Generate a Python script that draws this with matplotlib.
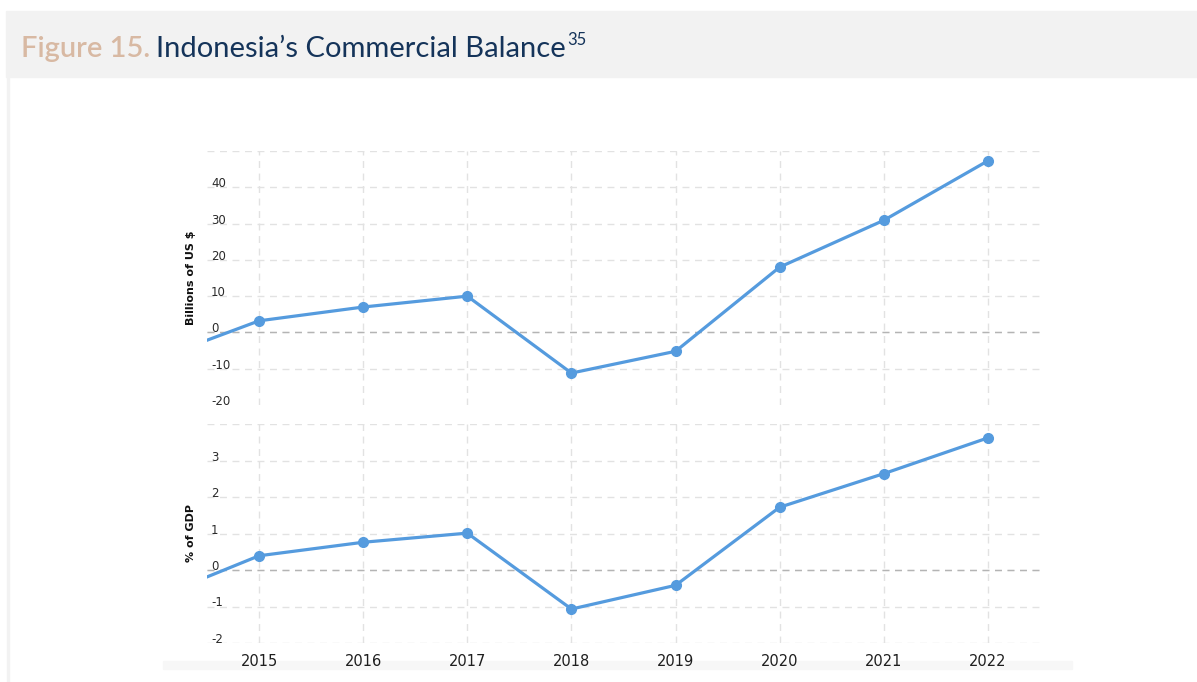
import matplotlib.pyplot as plt
import matplotlib.patches as mpatches
import numpy as np

# trade balance, yearly
years = [2014, 2015, 2016, 2017, 2018, 2019, 2020, 2021, 2022]
balance_usd_bn = [-7.5, 3.2, 7.0, 10.0, -11.2, -5.2, 18.0, 30.9, 47.3]
balance_pct_gdp = [-0.77, 0.39, 0.76, 1.01, -1.07, -0.42, 1.72, 2.64, 3.62]

year_ticks = [2015, 2016, 2017, 2018, 2019, 2020, 2021, 2022]
usd_ticks = [-20, -10, 0, 10, 20, 30, 40, 50]
pct_ticks = [-2, -1, 0, 1, 2, 3, 4]

LINE = '#559bde'
GRID = '#e2e2e2'
ZERO = '#b4b4b4'
W, H = 1197, 682


def px_rect(x0, y0, x1, y1):
    # pixel box (top-left origin) -> figure fraction rect
    return [x0 / W, 1 - y1 / H, (x1 - x0) / W, (y1 - y0) / H]


def style_panel(ax, yticks, ylim, ylabel, hide_bottom_grid):
    ax.set_xlim(2014.5, 2022.5)
    ax.set_ylim(*ylim)
    ax.set_xticks(year_ticks)
    ax.set_yticks(yticks)
    ax.set_yticklabels([str(t) for t in yticks[:-1]] + [''])
    ax.grid(True, color=GRID, lw=1, ls=(0, (5, 4)))
    ax.set_axisbelow(True)
    if hide_bottom_grid:
        ax.get_ygridlines()[0].set_visible(False)
    for s in ax.spines.values():
        s.set_visible(False)
    ax.patch.set_alpha(0)
    ax.axhline(0, color=ZERO, lw=1, ls=(0, (5, 4)), zorder=1)
    ax.tick_params(axis='y', length=0, pad=-3, labelsize=8.5, labelcolor='#2a2a2a')
    for lab in ax.get_yticklabels():
        lab.set_horizontalalignment('left')
        lab.set_verticalalignment('baseline')
    ax.set_ylabel(ylabel, fontsize=8, fontweight='bold', color='#111111')
    ax.yaxis.set_label_coords(-0.013, 0.5)


fig = plt.figure(figsize=(W / 100, H / 100), dpi=100)
fig.patch.set_facecolor('white')

# header band, frame edge and footer strip
fig.patches.append(mpatches.Rectangle((6 / W, 1 - 77 / H), 1 - 6 / W, 66 / H,
                                      transform=fig.transFigure, color='#f2f2f2', zorder=-2))
fig.patches.append(mpatches.Rectangle((7 / W, 0), 2 / W, 1 - 77 / H,
                                      transform=fig.transFigure, color='#f2f2f2', zorder=-2))
fig.patches.append(mpatches.Rectangle((163 / W, 1 - 669 / H), (1072 - 163) / W, 8 / H,
                                      transform=fig.transFigure, color='#f7f7f7', zorder=-2))

ax1 = fig.add_axes(px_rect(207, 151, 1040, 405))
ax2 = fig.add_axes(px_rect(207, 424, 1040, 643))
ax1.set_zorder(1)
ax2.set_zorder(1)

ax1.plot(years, balance_usd_bn, color=LINE, lw=2.3, marker='o', ms=7, zorder=3)
ax2.plot(years, balance_pct_gdp, color=LINE, lw=2.3, marker='o', ms=7, zorder=3)

style_panel(ax1, usd_ticks, (-20, 50), 'Billions of US $', True)
style_panel(ax2, pct_ticks, (-2, 4), '% of GDP', False)

ax1.tick_params(axis='x', length=0, labelbottom=False)
ax2.tick_params(axis='x', length=0, pad=8, labelsize=10.5, labelcolor='#1e1e1e')

# title, built piece by piece
renderer = fig.canvas.get_renderer()
tx, ty = 21 / W, 1 - 57 / H
t1 = fig.text(tx, ty, 'Figure 15.', fontsize=21, family='Lato', fontweight='semibold',
              color='#d8b9a3', va='baseline')
bb = t1.get_window_extent(renderer)
t2 = fig.text((bb.x1 + 6) / W, ty, 'Indonesia\u2019s Commercial Balance', fontsize=21,
              family='Lato', color='#15345a', va='baseline')
bb = t2.get_window_extent(renderer)
fig.text((bb.x1 + 1) / W, ty + 12 / H, '35', fontsize=12, family='Lato',
         color='#15345a', va='baseline')

fig.savefig('out.png', dpi=100)
